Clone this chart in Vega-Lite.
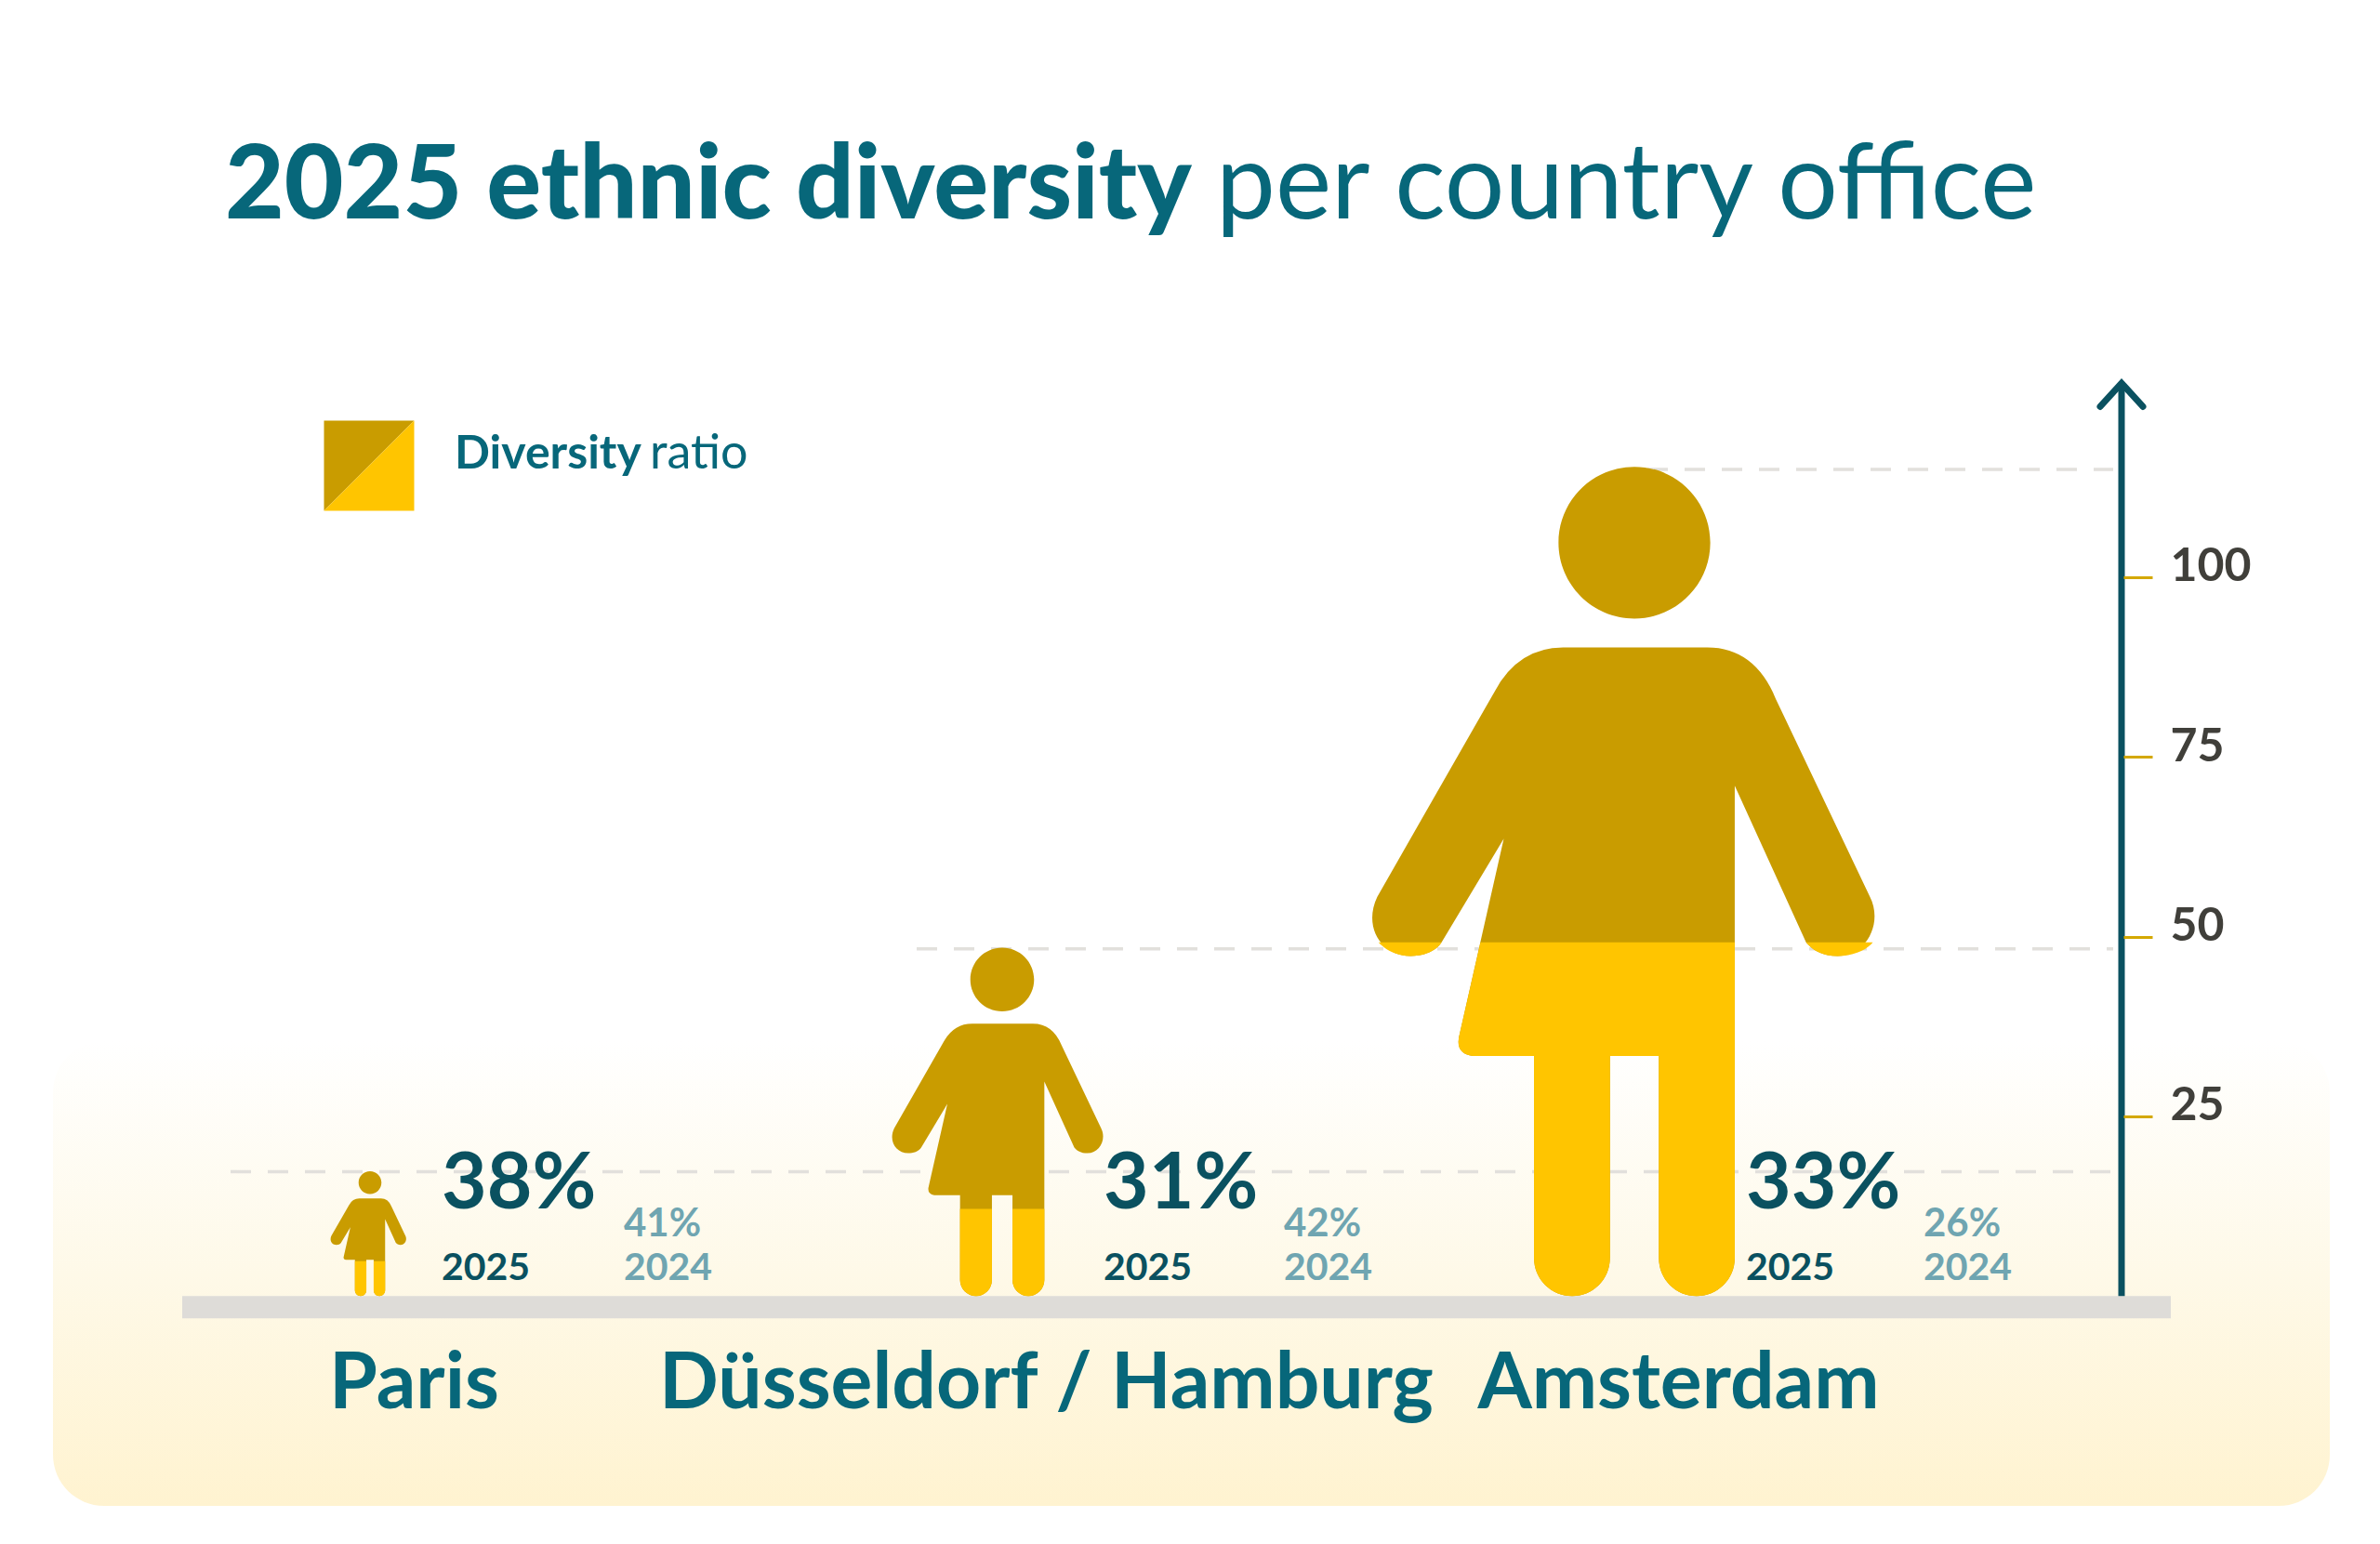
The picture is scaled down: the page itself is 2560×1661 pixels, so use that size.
{
"$schema":"https://vega.github.io/schema/vega-lite/v6.json",
"width":2560,"height":1661,"padding":0,"autosize":{"type":"none"},"background":"#ffffff",
"data":{"values":[
{"city":"Paris","height":17.3,"r2025":0.38,"r2024":0.41},
{"city":"Düsseldorf / Hamburg","height":48.3,"r2025":0.31,"r2024":0.42},
{"city":"Amsterdam","height":115,"r2025":0.33,"r2024":0.26}]},
"config":{"view":{"stroke":null},"font":"Lato","text":{"font":"Lato"}},
"layer":[
{"data":{"values":[{}]},"mark":{"type":"rect","cornerRadius":55,"fill":{"gradient":"linear","x1":0,"y1":0,"x2":0,"y2":1,"stops":[{"offset":0,"color":"#ffffff"},{"offset":0.5,"color":"#fef9e8"},{"offset":1,"color":"#fff3d0"}]}},
 "encoding":{"x":{"value":57},"x2":{"value":2506},"y":{"value":1120},"y2":{"value":1620}}},
{"transform":[{"filter":"datum.city==='Paris'"}],"mark":{"type":"rule","xOffset":-150,"stroke":"#e2e0dc","strokeWidth":3.5,"strokeDash":[22,18]},
 "encoding":{"x":{"field":"city","type":"nominal","sort":null,"scale":{"type":"point","domain":["Paris","Düsseldorf / Hamburg","Amsterdam"],"range":[398,1758],"padding":0},
   "axis":{"title":null,"orient":"bottom","offset":-147,"domain":false,"ticks":false,"grid":false,"labelAngle":0,"labelPadding":0,"labelBaseline":"alphabetic","labelOffset":47,"labelFontSize":84,"labelFontWeight":700,"labelColor":"#07677a","labelFont":"Lato","labelLimit":0,"labelOverlap":false,"labelFlush":false,"zindex":1}},
   "x2":{"value":2273},
   "y":{"field":"height","type":"quantitative","scale":{"domain":[-34.5,180.3],"range":[1661,0],"nice":false,"zero":false},
   "axis":{"title":null,"orient":"right","offset":-276,"values":[25,50,75,100],"domain":false,"grid":false,"tickColor":"#d4a800","tickWidth":3,"tickSize":31,"labelPadding":19,"labelOffset":-11,"labelFontSize":50,"labelFontWeight":700,"labelColor":"#403f3a","labelFont":"Lato","zindex":1}}}},
{"transform":[{"filter":"datum.city==='Düsseldorf / Hamburg'"}],"mark":{"type":"rule","xOffset":-92,"stroke":"#e2e0dc","strokeWidth":3.5,"strokeDash":[22,18]},
 "encoding":{"x":{"field":"city","type":"nominal","sort":null},"x2":{"value":2273},"y":{"field":"height","type":"quantitative"}}},
{"transform":[{"filter":"datum.city==='Amsterdam'"}],"mark":{"type":"rule","xOffset":14,"stroke":"#e2e0dc","strokeWidth":3.5,"strokeDash":[22,18]},
 "encoding":{"x":{"field":"city","type":"nominal","sort":null},"x2":{"value":2273},"y":{"field":"height","type":"quantitative"}}},
{"data":{"values":[{}]},"mark":{"type":"rect","fill":"#dedcd8"},
 "encoding":{"x":{"value":196},"x2":{"value":2335},"y":{"datum":0,"type":"quantitative"},"y2":{"datum":-3.1}}},
{"data":{"values":[{}]},"mark":{"type":"rule","stroke":"#0a5160","strokeWidth":7},
 "encoding":{"x":{"value":2282},"y":{"datum":0,"type":"quantitative"},"y2":{"datum":127}}},
{"data":{"values":[{}]},"mark":{"type":"point","shape":"M-1 1.1L0 0L1 1.1","filled":false,"stroke":"#0a5160","strokeWidth":7,"strokeCap":"round","opacity":1,"size":2116},
 "encoding":{"x":{"value":2282},"y":{"datum":127,"type":"quantitative"}}},
{"mark":{"type":"point","filled":true,"opacity":1,"fill":"#c99c00","shape":"M-0.172 -1.564L0.176 -1.564Q0.29 -1.564 0.341 -1.44L0.568 -0.963C0.6 -0.9 0.56 -0.82 0.49 -0.82C0.45 -0.82 0.43 -0.835 0.414 -0.853L0.242 -1.231L0.242 -0.092C0.242 -0.04 0.2 0 0.15 0C0.1 0 0.059 -0.04 0.059 -0.092L0.059 -0.579L-0.059 -0.579L-0.059 -0.092C-0.059 -0.04 -0.1 0 -0.15 0C-0.2 0 -0.242 -0.04 -0.242 -0.092L-0.242 -0.579L-0.39 -0.579Q-0.435 -0.585 -0.421 -0.634L-0.315 -1.103L-0.465 -0.853C-0.48 -0.83 -0.51 -0.82 -0.54 -0.82C-0.61 -0.82 -0.655 -0.89 -0.62 -0.963L-0.337 -1.458Q-0.28 -1.564 -0.172 -1.564ZM0 -2C0.101 -2 0.183 -1.918 0.183 -1.817C0.183 -1.716 0.101 -1.634 0 -1.634C-0.101 -1.634 -0.183 -1.716 -0.183 -1.817C-0.183 -1.918 -0.101 -2 0 -2Z"},
 "encoding":{"x":{"field":"city","type":"nominal","sort":null},"y":{"datum":0,"type":"quantitative"},
  "size":{"field":"height","type":"quantitative","legend":null,"scale":{"type":"pow","exponent":2,"domain":[0,115],"range":[0,795800]}}}},
{"mark":{"type":"point","filled":true,"opacity":1,"fill":"#ffc500"},
 "encoding":{"x":{"field":"city","type":"nominal","sort":null},"y":{"datum":0,"type":"quantitative"},
  "size":{"field":"height","type":"quantitative","legend":null},
  "shape":{"field":"city","type":"nominal","legend":null,"scale":{"domain":["Paris","Düsseldorf / Hamburg","Amsterdam"],"range":[
   "M0.242 -0.56L0.242 -0.092C0.242 -0.04 0.2 0 0.15 0C0.1 0 0.059 -0.04 0.059 -0.092L0.059 -0.56ZM-0.059 -0.56L-0.059 -0.092C-0.059 -0.04 -0.1 0 -0.15 0C-0.2 0 -0.242 -0.04 -0.242 -0.092L-0.242 -0.56Z",
   "M0.242 -0.5L0.242 -0.092C0.242 -0.04 0.2 0 0.15 0C0.1 0 0.059 -0.04 0.059 -0.092L0.059 -0.5ZM-0.059 -0.5L-0.059 -0.092C-0.059 -0.04 -0.1 0 -0.15 0C-0.2 0 -0.242 -0.04 -0.242 -0.092L-0.242 -0.5Z",
   "M-0.371 -0.853L0.242 -0.853L0.242 -0.092C0.242 -0.04 0.2 0 0.15 0C0.1 0 0.059 -0.04 0.059 -0.092L0.059 -0.579L-0.059 -0.579L-0.059 -0.092C-0.059 -0.04 -0.1 0 -0.15 0C-0.2 0 -0.242 -0.04 -0.242 -0.092L-0.242 -0.579L-0.39 -0.579Q-0.435 -0.585 -0.421 -0.634ZM-0.465 -0.853C-0.48 -0.83 -0.51 -0.82 -0.54 -0.82C-0.575 -0.82 -0.6 -0.835 -0.617 -0.853ZM0.414 -0.853C0.43 -0.835 0.45 -0.82 0.49 -0.82C0.53 -0.82 0.56 -0.835 0.575 -0.853Z"]}}}},
{"transform":[{"filter":"datum.city==='Paris'"}],"layer":[
 {"mark":{"type":"text","align":"left","baseline":"alphabetic","dx":77,"fontSize":84,"fontWeight":700,"fill":"#0a5160"},"encoding":{"x":{"field":"city","type":"nominal","sort":null},"y":{"value":1300},"text":{"field":"r2025","type":"quantitative","format":".0%"}}},
 {"mark":{"type":"text","align":"left","baseline":"alphabetic","dx":77,"fontSize":41,"fontWeight":700,"fill":"#0a5160"},"encoding":{"x":{"field":"city","type":"nominal","sort":null},"y":{"value":1377},"text":{"value":"2025"}}},
 {"mark":{"type":"text","align":"left","baseline":"alphabetic","dx":273,"fontSize":42,"fontWeight":700,"fill":"#6fa5b1"},"encoding":{"x":{"field":"city","type":"nominal","sort":null},"y":{"value":1330},"text":{"field":"r2024","type":"quantitative","format":".0%"}}},
 {"mark":{"type":"text","align":"left","baseline":"alphabetic","dx":273,"fontSize":41,"fontWeight":700,"fill":"#6fa5b1"},"encoding":{"x":{"field":"city","type":"nominal","sort":null},"y":{"value":1377},"text":{"value":"2024"}}}
]},
{"transform":[{"filter":"datum.city==='Düsseldorf / Hamburg'"}],"layer":[
 {"mark":{"type":"text","align":"left","baseline":"alphabetic","dx":109,"fontSize":84,"fontWeight":700,"fill":"#0a5160"},"encoding":{"x":{"field":"city","type":"nominal","sort":null},"y":{"value":1300},"text":{"field":"r2025","type":"quantitative","format":".0%"}}},
 {"mark":{"type":"text","align":"left","baseline":"alphabetic","dx":109,"fontSize":41,"fontWeight":700,"fill":"#0a5160"},"encoding":{"x":{"field":"city","type":"nominal","sort":null},"y":{"value":1377},"text":{"value":"2025"}}},
 {"mark":{"type":"text","align":"left","baseline":"alphabetic","dx":303,"fontSize":42,"fontWeight":700,"fill":"#6fa5b1"},"encoding":{"x":{"field":"city","type":"nominal","sort":null},"y":{"value":1330},"text":{"field":"r2024","type":"quantitative","format":".0%"}}},
 {"mark":{"type":"text","align":"left","baseline":"alphabetic","dx":303,"fontSize":41,"fontWeight":700,"fill":"#6fa5b1"},"encoding":{"x":{"field":"city","type":"nominal","sort":null},"y":{"value":1377},"text":{"value":"2024"}}}
]},
{"transform":[{"filter":"datum.city==='Amsterdam'"}],"layer":[
 {"mark":{"type":"text","align":"left","baseline":"alphabetic","dx":120,"fontSize":84,"fontWeight":700,"fill":"#0a5160"},"encoding":{"x":{"field":"city","type":"nominal","sort":null},"y":{"value":1300},"text":{"field":"r2025","type":"quantitative","format":".0%"}}},
 {"mark":{"type":"text","align":"left","baseline":"alphabetic","dx":120,"fontSize":41,"fontWeight":700,"fill":"#0a5160"},"encoding":{"x":{"field":"city","type":"nominal","sort":null},"y":{"value":1377},"text":{"value":"2025"}}},
 {"mark":{"type":"text","align":"left","baseline":"alphabetic","dx":311,"fontSize":42,"fontWeight":700,"fill":"#6fa5b1"},"encoding":{"x":{"field":"city","type":"nominal","sort":null},"y":{"value":1330},"text":{"field":"r2024","type":"quantitative","format":".0%"}}},
 {"mark":{"type":"text","align":"left","baseline":"alphabetic","dx":311,"fontSize":41,"fontWeight":700,"fill":"#6fa5b1"},"encoding":{"x":{"field":"city","type":"nominal","sort":null},"y":{"value":1377},"text":{"value":"2024"}}}
]},
{"data":{"values":[{}]},"mark":{"type":"text","align":"left","baseline":"alphabetic","fontSize":110,"fontWeight":900,"fill":"#07677a"},
 "encoding":{"x":{"value":242},"y":{"value":235},"text":{"value":"2025 ethnic diversity"}}},
{"data":{"values":[{}]},"mark":{"type":"text","align":"left","baseline":"alphabetic","fontSize":114,"fontWeight":400,"fill":"#07677a"},
 "encoding":{"x":{"value":1308},"y":{"value":235},"text":{"value":"per country office"}}},
{"data":{"values":[{}]},"mark":{"type":"point","shape":"M-1 -1L1 -1L-1 1Z","filled":true,"fill":"#c99c00","opacity":1,"size":9409},
 "encoding":{"x":{"value":397},"y":{"value":501}}},
{"data":{"values":[{}]},"mark":{"type":"point","shape":"M1 -1L1 1L-1 1Z","filled":true,"fill":"#ffc500","opacity":1,"size":9409},
 "encoding":{"x":{"value":397},"y":{"value":501}}},
{"data":{"values":[{}]},"mark":{"type":"text","align":"left","baseline":"alphabetic","fontSize":50,"fontWeight":700,"fill":"#07677a"},
 "encoding":{"x":{"value":489},"y":{"value":504},"text":{"value":"Diversity"}}},
{"data":{"values":[{}]},"mark":{"type":"text","align":"left","baseline":"alphabetic","fontSize":52,"fontWeight":400,"fill":"#07677a"},
 "encoding":{"x":{"value":699},"y":{"value":504},"text":{"value":"ratio"}}}
]}
